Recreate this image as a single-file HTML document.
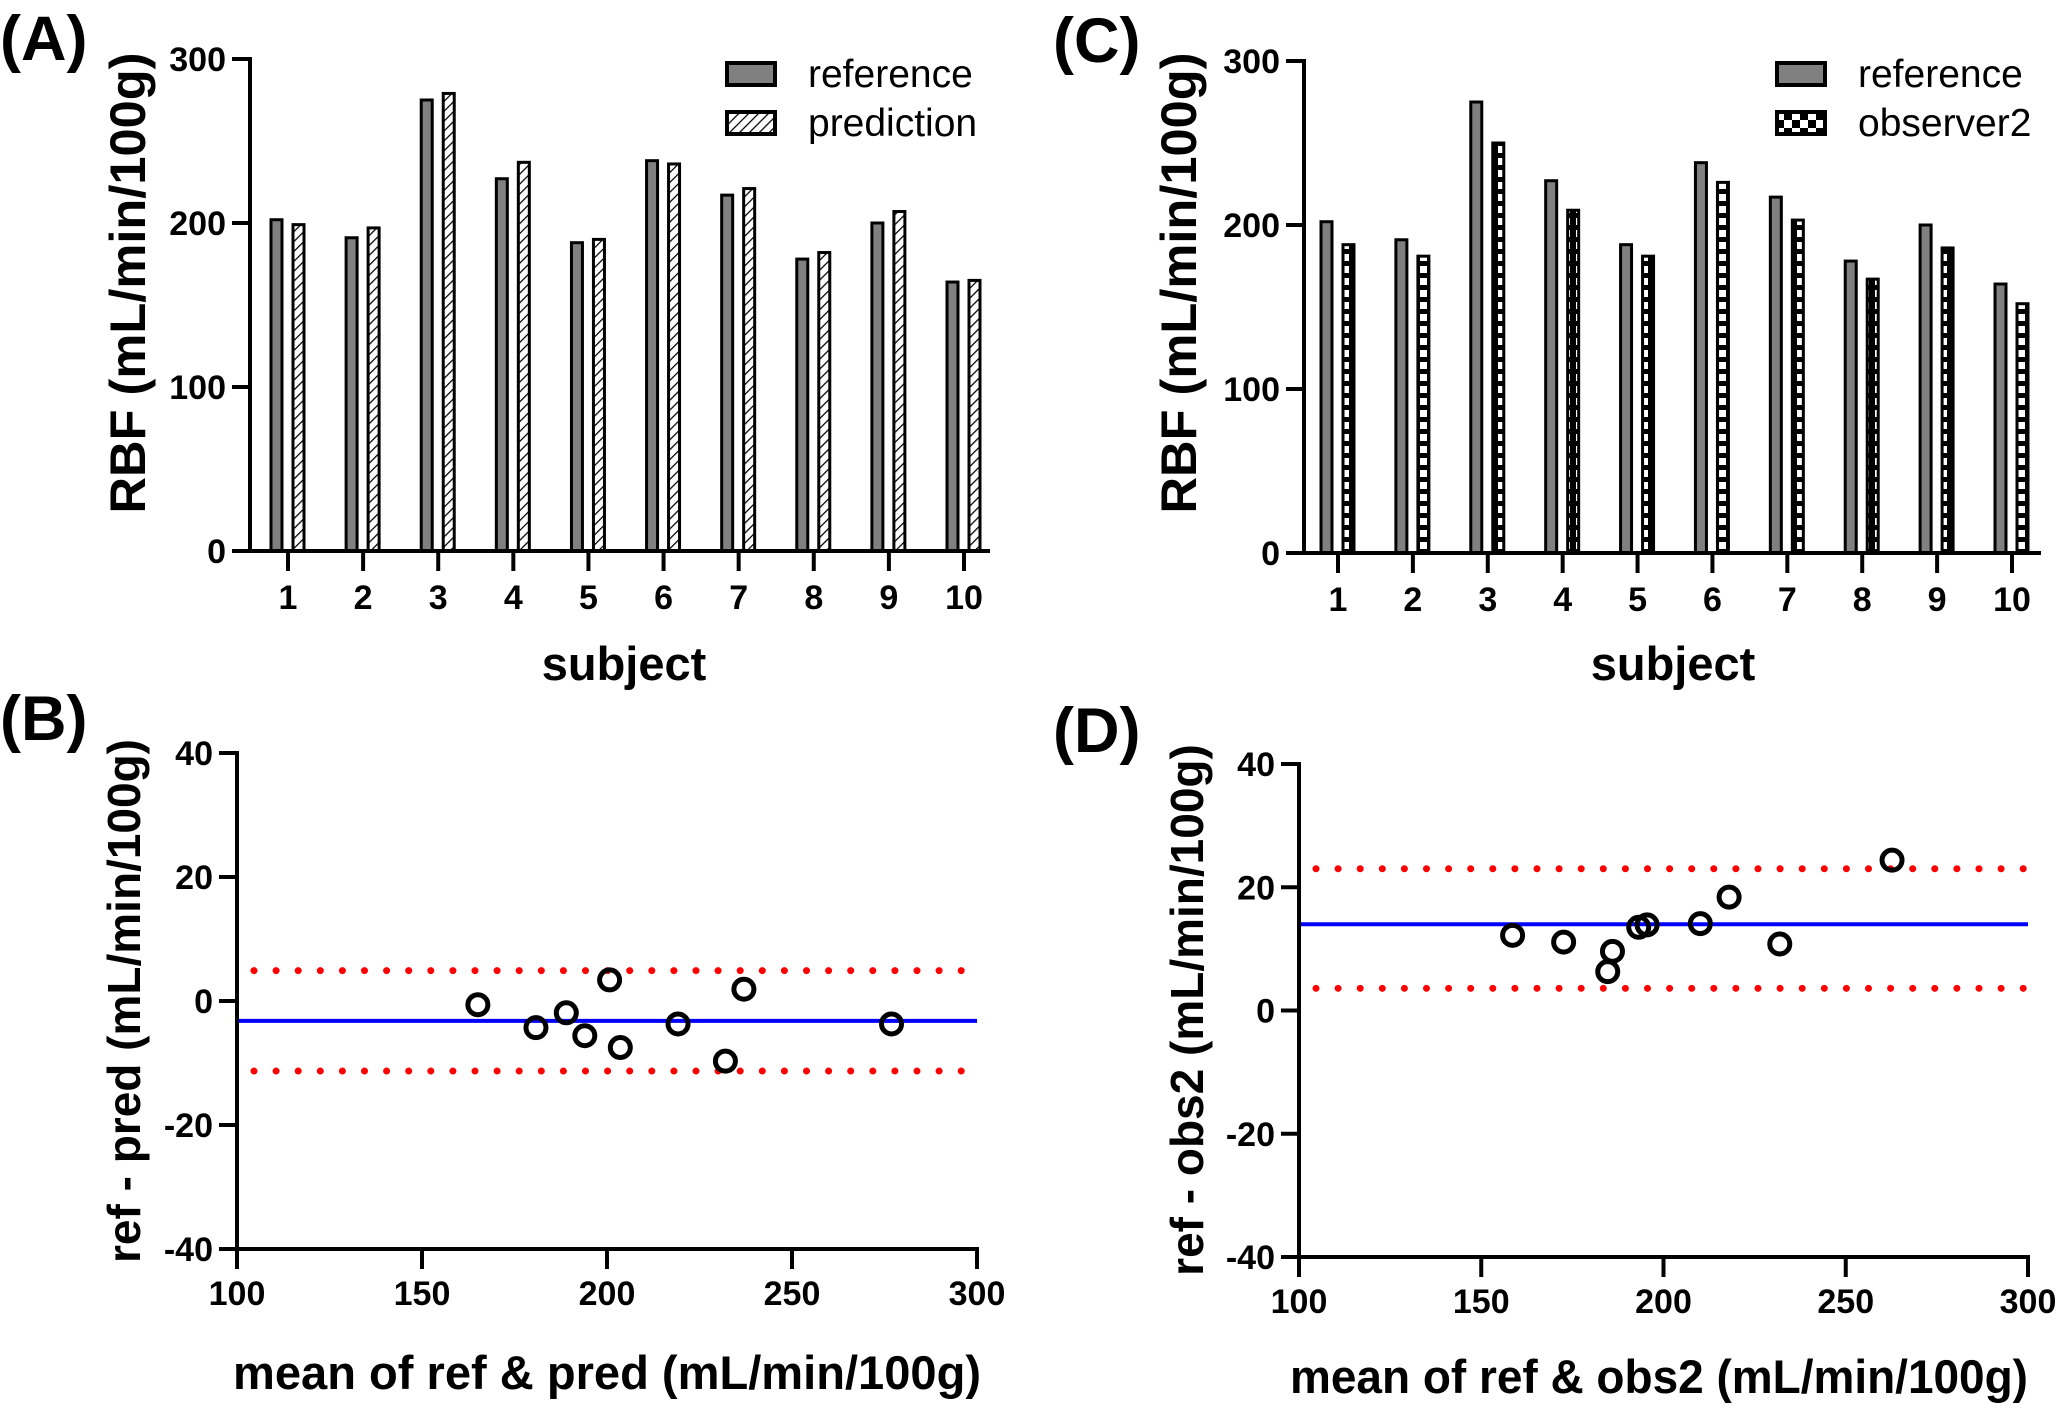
<!DOCTYPE html>
<html><head><meta charset="utf-8"><style>
html,body{margin:0;padding:0;background:#fff;}
svg{display:block;font-family:"Liberation Sans",Arial,sans-serif;}
</style></head><body>
<svg id="fig" width="2065" height="1411" viewBox="0 0 2065 1411" xmlns="http://www.w3.org/2000/svg">
<defs>
<pattern id="hatch" patternUnits="userSpaceOnUse" width="7" height="7" patternTransform="rotate(45)">
<rect width="7" height="7" fill="#fff"/><line x1="0" y1="0" x2="0" y2="7" stroke="#000" stroke-width="2.5"/>
</pattern>
<pattern id="checker" patternUnits="userSpaceOnUse" width="16" height="16">
<rect width="16" height="16" fill="#000"/><rect x="0" y="0" width="8" height="8" fill="#fff"/><rect x="8" y="8" width="8" height="8" fill="#fff"/>
</pattern>
<pattern id="checkbar" patternUnits="userSpaceOnUse" width="13" height="12">
<rect width="13" height="12" fill="#000"/><rect x="3" y="2" width="7" height="7" fill="#fff"/>
</pattern>
</defs>
<g id="root"></g>
</svg>
<script>
// ---- data ----
const subjects = ["1","2","3","4","5","6","7","8","9","10"];
const refValues = [202,191,275,227,188,238,217,178,200,164];
const predValues = [199,197,279,237,190,236,221,182,207,165];
const obs2Values = [188,181,250,209,181,226,203,167,186,152];
const barTicks = [0,100,200,300];

const baPredMeans = [165.1,180.8,189,194,200.7,203.6,219.2,232,237,276.9];
const baPredDiffs = [-0.6,-4.3,-1.9,-5.6,3.4,-7.5,-3.7,-9.7,1.9,-3.7];
const baPredStats = [-3.2,4.9,-11.3]; // mean bias, upper LoA, lower LoA

const baObsMeans = [158.6,172.6,184.7,186,193.2,195.5,210.1,218,231.9,262.7];
const baObsDiffs = [12.2,11.1,6.3,9.6,13.5,13.9,14.1,18.4,10.8,24.4];
const baObsStats = [14.0,23.0,3.6];
const baXTicks = [100,150,200,250,300];
const baYTicks = [-40,-20,0,20,40];

const NS = "http://www.w3.org/2000/svg";
const root = document.getElementById("root");
function mk(tag, attrs, parent, text){
  const e = document.createElementNS(NS, tag);
  for (const k in attrs) e.setAttribute(k, attrs[k]);
  if (text !== undefined) e.textContent = text;
  (parent || root).appendChild(e);
  return e;
}

function panelLabel(txt, x, y, name){
  const t = mk("text",{x:x,y:y,"font-size":63,"font-weight":"bold"},root,txt);
  
  
}

function barPanel(o){
  const g = mk("g",{});
  
  
  const y = v => o.y0 + (o.y300 - o.y0) * v / 300;
  const x = i => o.x1 + (o.x10 - o.x1) * i / 9;
  subjects.forEach((s,i)=>{
    const r = mk("rect",{x:x(i)-17,y:y(refValues[i]),width:11,height:y(0)-y(refValues[i]),fill:"#808080",stroke:"#000","stroke-width":3},g);
    
    
    const v = o.second[i];
    const b = mk("rect",{x:x(i)+5,y:y(v),width:11,height:y(0)-y(v),fill:o.fill,stroke:"#000","stroke-width":3},g);
    
    
  });
  const ya = mk("line",{x1:o.ax,y1:y(300)-2,x2:o.ax,y2:y(0)+2,stroke:"#000","stroke-width":4},g);
  
  
  const xa = mk("line",{x1:o.xs,y1:y(0),x2:o.xe,y2:y(0),stroke:"#000","stroke-width":4},g);
  
  
  barTicks.forEach(t=>{
    mk("line",{x1:o.ax-18,y1:y(t),x2:o.ax,y2:y(t),stroke:"#000","stroke-width":4},g);
    const l = mk("text",{x:o.ax-24,y:y(t)+12,"font-size":34,"font-weight":"bold","text-anchor":"end"},g,String(t));
    
    
  });
  subjects.forEach((s,i)=>{
    mk("line",{x1:x(i),y1:y(0),x2:x(i),y2:y(0)+20,stroke:"#000","stroke-width":4},g);
    const l = mk("text",{x:x(i),y:y(0)+58,"font-size":34,"font-weight":"bold","text-anchor":"middle"},g,s);
    
    
  });
  const xt = mk("text",{x:o.xtx,y:680,"font-size":47,"font-weight":"bold","text-anchor":"middle"},g,"subject");
  
  
  const yt = mk("text",{x:0,y:0,"font-size":50,"font-weight":"bold","text-anchor":"middle",textLength:461,lengthAdjust:"spacingAndGlyphs",transform:`translate(${o.ytx},${283}) rotate(-90)`},g,"RBF (mL/min/100g)");
  
  
  const lg = mk("g",{},g);
  
  
  mk("rect",{x:o.lx,y:63,width:48,height:22,fill:"#808080",stroke:"#000","stroke-width":4},lg);
  mk("rect",{x:o.lx,y:112,width:48,height:22,fill:o.legFill,stroke:"#000","stroke-width":4},lg);
  const t1 = mk("text",{x:o.lx+81,y:87,"font-size":39},lg,"reference");
  
  
  const t2 = mk("text",{x:o.lx+81,y:136,"font-size":39},lg,o.secondName);
  
  
}

function baPanel(o){
  const g = mk("g",{});
  
  
  const x = v => o.ax + (o.xe - o.ax) * (v - 100) / 200;
  const y = v => o.ym40 + (o.y40 - o.ym40) * (v + 40) / 80;
  [o.stats[1], o.stats[2]].forEach((v,k)=>{
    const l = mk("line",{x1:o.ax+17,y1:y(v),x2:o.xe,y2:y(v),stroke:"#ff0000","stroke-width":7,"stroke-linecap":"round","stroke-dasharray":"0 22.1"},g);
    
    
  });
  const m = mk("line",{x1:o.ax,y1:y(o.stats[0]),x2:o.xe,y2:y(o.stats[0]),stroke:"#0000ff","stroke-width":4},g);
  
  
  o.means.forEach((mv,i)=>{
    const c = mk("circle",{cx:x(mv),cy:y(o.diffs[i]),r:10,fill:"none",stroke:"#000","stroke-width":5},g);
    
    
  });
  const ya = mk("line",{x1:o.ax,y1:y(40)-2,x2:o.ax,y2:y(-40)+2,stroke:"#000","stroke-width":4},g);
  
  
  const xa = mk("line",{x1:o.ax-2,y1:y(-40),x2:o.xe+2,y2:y(-40),stroke:"#000","stroke-width":4},g);
  
  
  baYTicks.forEach(t=>{
    mk("line",{x1:o.ax-18,y1:y(t),x2:o.ax,y2:y(t),stroke:"#000","stroke-width":4},g);
    const l = mk("text",{x:o.ax-24,y:y(t)+12,"font-size":34,"font-weight":"bold","text-anchor":"end"},g,String(t));
    
    
  });
  baXTicks.forEach(t=>{
    mk("line",{x1:x(t),y1:y(-40),x2:x(t),y2:y(-40)+20,stroke:"#000","stroke-width":4},g);
    const l = mk("text",{x:x(t),y:y(-40)+56,"font-size":34,"font-weight":"bold","text-anchor":"middle"},g,String(t));
    
    
  });
  const xt = mk("text",{x:o.xtx,y:o.xty,"font-size":47,"font-weight":"bold","text-anchor":"middle",textLength:o.xtlen,lengthAdjust:"spacingAndGlyphs"},g,o.xtitle);
  
  
  const yt = mk("text",{x:0,y:0,"font-size":46,"font-weight":"bold","text-anchor":"middle",transform:`translate(${o.ytx},${o.yty}) rotate(-90)`},g,o.ytitle);
  
  
}

panelLabel("(A)", 0, 60, "panel-label-a");
panelLabel("(B)", 0, 740, "panel-label-b");
panelLabel("(C)", 1053, 62, "panel-label-c");
panelLabel("(D)", 1053, 752, "panel-label-d");

barPanel({name:"panel-a-bar-chart",ax:250,xs:236,xe:990,x1:288,x10:964,y0:551,y300:59,
  second:predValues,secondName:"prediction",fill:"url(#hatch)",legFill:"url(#hatch)",lx:727,xtx:624,ytx:145});
barPanel({name:"panel-c-bar-chart",ax:1304,xs:1289,xe:2041,x1:1338,x10:2012,y0:553,y300:61,
  second:obs2Values,secondName:"observer2",fill:"url(#checkbar)",legFill:"url(#checker)",lx:1777,xtx:1673,ytx:1196});

baPanel({name:"panel-b-bland-altman",ax:237,xe:977,y40:753,ym40:1249,means:baPredMeans,diffs:baPredDiffs,stats:baPredStats,
  xtitle:"mean of ref & pred (mL/min/100g)",xtlen:748,xtx:607,xty:1389,ytitle:"ref - pred (mL/min/100g)",ytx:140,yty:1001});
baPanel({name:"panel-d-bland-altman",ax:1299,xe:2028,y40:764,ym40:1257,means:baObsMeans,diffs:baObsDiffs,stats:baObsStats,
  xtitle:"mean of ref & obs2 (mL/min/100g)",xtlen:738,xtx:1659,xty:1393,ytitle:"ref - obs2 (mL/min/100g)",ytx:1203,yty:1010});
</script>
</body></html>
